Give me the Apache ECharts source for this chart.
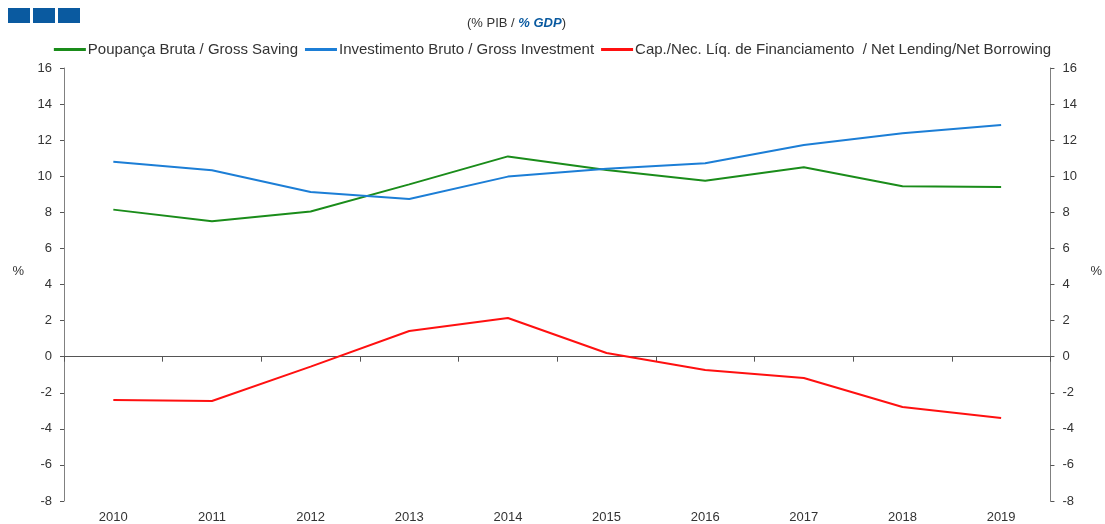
<!DOCTYPE html>
<html>
<head>
<meta charset="utf-8">
<script src="https://cdn.jsdelivr.net/npm/echarts@6/dist/echarts.min.js"></script>
<style>
  html, body { margin: 0; padding: 0; background: #fff; overflow: hidden; }
  #chart { width: 1105px; height: 524px; }
</style>
</head>
<body>
<div id="chart"></div>
<script>
const years = ['2010', '2011', '2012', '2013', '2014', '2015', '2016', '2017', '2018', '2019'];
const grossSaving = [8.15, 7.5, 8.05, 9.55, 11.1, 10.35, 9.75, 10.5, 9.45, 9.4];
const grossInvestment = [10.8, 10.33, 9.13, 8.74, 9.98, 10.42, 10.72, 11.73, 12.38, 12.84];
const netLending = [-2.4, -2.46, -0.55, 1.42, 2.14, 0.2, -0.74, -1.18, -2.79, -3.4];

const font = 'Liberation Sans, Arial, sans-serif';
const chart = echarts.init(document.getElementById('chart'));

const yAxisBase = {
  type: 'value',
  min: -8,
  max: 16,
  interval: 2,
  name: '%',
  nameLocation: 'middle',
  nameRotate: 0,
  nameGap: 40,
  nameTextStyle: { color: '#333', fontSize: 13, fontFamily: font, verticalAlign: 'bottom', lineHeight: 26 },
  axisLine: { show: true, onZero: false, lineStyle: { color: '#808080', width: 1 } },
  axisTick: { show: true, length: 4, lineStyle: { color: '#555' } },
  axisLabel: { color: '#333', fontSize: 13, fontFamily: font, margin: 12 },
  splitLine: { show: false }
};

chart.setOption({
  animation: false,
  textStyle: { fontFamily: font },
  graphic: [
    { type: 'rect', left: 8, top: 8, shape: { width: 22, height: 15 }, style: { fill: '#0a5aa0' } },
    { type: 'rect', left: 33, top: 8, shape: { width: 22, height: 15 }, style: { fill: '#0a5aa0' } },
    { type: 'rect', left: 58, top: 8, shape: { width: 22, height: 15 }, style: { fill: '#0a5aa0' } }
  ],
  title: {
    text: '(% PIB / {b|% GDP})',
    left: 462,
    top: 12,
    textStyle: {
      fontSize: 13,
      fontWeight: 'normal',
      color: '#333',
      fontFamily: font,
      rich: {
        b: { fontSize: 13, fontWeight: 'bold', fontStyle: 'italic', color: '#0a5aa0', fontFamily: font }
      }
    }
  },
  legend: {
    top: 37,
    left: 'center',
    itemWidth: 32,
    itemHeight: 3,
    itemGap: 7,
    icon: 'rect',
    textStyle: { fontSize: 15, color: '#333', fontFamily: font, padding: [0, 0, 0, -3] },
    data: ['Poupança Bruta / Gross Saving', 'Investimento Bruto / Gross Investment', 'Cap./Nec. Líq. de Financiamento  / Net Lending/Net Borrowing']
  },
  grid: { left: 64, right: 53, top: 68, bottom: 23, containLabel: false },
  xAxis: [
    {
      type: 'category',
      data: years,
      boundaryGap: true,
      axisLine: { onZero: true, lineStyle: { color: '#555', width: 1 } },
      axisTick: { show: true, length: 5, lineStyle: { color: '#555' } },
      axisLabel: { show: false }
    },
    {
      type: 'category',
      data: years,
      position: 'bottom',
      boundaryGap: true,
      axisLine: { show: false, onZero: false },
      axisTick: { show: false },
      axisLabel: { color: '#333', fontSize: 13, fontFamily: font, margin: 10 }
    }
  ],
  yAxis: [
    Object.assign({}, yAxisBase, { position: 'left' }),
    Object.assign({}, yAxisBase, { position: 'right' })
  ],
  series: [
    {
      name: 'Poupança Bruta / Gross Saving',
      type: 'line',
      data: grossSaving,
      symbol: 'none',
      color: '#1a8c1a',
      lineStyle: { width: 2 }
    },
    {
      name: 'Investimento Bruto / Gross Investment',
      type: 'line',
      data: grossInvestment,
      symbol: 'none',
      color: '#1c7ed6',
      lineStyle: { width: 2 }
    },
    {
      name: 'Cap./Nec. Líq. de Financiamento  / Net Lending/Net Borrowing',
      type: 'line',
      data: netLending,
      symbol: 'none',
      color: '#ff1010',
      lineStyle: { width: 2 }
    }
  ]
});
</script>
</body>
</html>
